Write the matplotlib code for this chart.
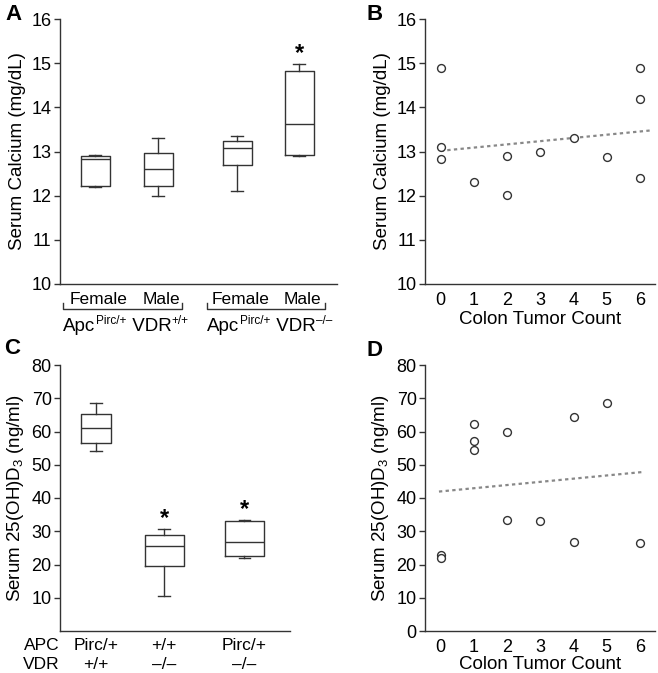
import numpy as np
import matplotlib
matplotlib.use("Agg")
import matplotlib.pyplot as plt

plt.rcParams["font.family"] = ["Liberation Sans", "DejaVu Sans"]
plt.rcParams["mathtext.fontset"] = "custom"
plt.rcParams["mathtext.rm"] = "Liberation Sans"
plt.rcParams["mathtext.it"] = "Liberation Sans:italic"
plt.rcParams["mathtext.bf"] = "Liberation Sans:bold"

# ---- data ----
# panel A: serum calcium by sex / genotype (box stats)
ca_groups = ["Female", "Male", "Female", "Male"]
ca_geno = ["+/+", "\u2013/\u2013"]
ca_whislo = [12.20, 11.99, 12.10, 12.89]
ca_q1 = [12.21, 12.21, 12.69, 12.92]
ca_med = [12.83, 12.61, 13.08, 13.63]
ca_q3 = [12.90, 12.96, 13.23, 14.82]
ca_whishi = [12.91, 13.30, 13.36, 14.99]
ca_star = [None, None, None, 15.22]

# panel B: calcium vs colon tumor count
b_count = [0, 0, 0, 1, 2, 2, 3, 4, 5, 6, 6, 6]
b_calcium = [14.90, 13.11, 12.84, 12.30, 12.90, 12.01, 13.00, 13.30, 12.87, 14.90, 14.20, 12.41]

# panel C: serum 25(OH)D3 by genotype
d_apc = ["Pirc/+", "+/+", "Pirc/+"]
d_vdr = ["+/+", "\u2013/\u2013", "\u2013/\u2013"]
d_whislo = [54.2, 10.6, 22.1]
d_q1 = [56.4, 19.6, 22.6]
d_med = [61.1, 25.5, 26.7]
d_q3 = [65.4, 28.9, 33.1]
d_whishi = [68.7, 30.6, 33.4]
d_star = [None, 33.9, 36.4]

# panel D: 25(OH)D3 vs colon tumor count
dd_count = [0, 0, 1, 1, 1, 2, 2, 3, 4, 4, 5, 6]
dd_vitd = [23.0, 22.1, 62.3, 57.2, 54.3, 60.0, 33.5, 33.1, 64.3, 26.8, 68.6, 26.4]

EDGE = "#333333"
W, H = 658, 673


def px_axes(fig, left, right, top, bottom):
    return fig.add_axes([left / W, 1 - bottom / H, (right - left) / W, (bottom - top) / H])


def style(ax):
    for s in ["top", "right"]:
        ax.spines[s].set_visible(False)
    for s in ["left", "bottom"]:
        ax.spines[s].set_color(EDGE)
        ax.spines[s].set_linewidth(1.0)
    ax.tick_params(axis="y", direction="out", length=4, width=1, color=EDGE,
                   labelsize=13, pad=2)
    ax.tick_params(axis="x", length=0, labelsize=13, pad=6)


def boxes(ax, whislo, q1, med, q3, whishi, pos, widths, capw):
    stats = []
    for i in range(len(med)):
        stats.append(dict(whislo=whislo[i], q1=q1[i], med=med[i], q3=q3[i],
                          whishi=whishi[i], fliers=[]))
    lp = dict(color=EDGE, linewidth=1.0)
    ax.bxp(stats, positions=pos, widths=widths, capwidths=capw, showfliers=False,
           boxprops=lp, whiskerprops=lp, capprops=lp,
           medianprops=dict(color=EDGE, linewidth=1.0), manage_ticks=False)


def geno_label(fig, x, y, geno):
    # "Apc^Pirc/+ VDR^geno" built piece by piece so the superscripts stay small
    renderer = fig.canvas.get_renderer()
    pieces = [("Apc", 13.5, 0), ("Pirc/+", 8.5, 7), (" VDR", 13.5, 0), (geno, 8.5, 7)]
    xpx = x
    for txt, fs, rise in pieces:
        t = fig.text(xpx / W, 1 - (y - rise) / H, txt, ha="left", va="baseline", fontsize=fs)
        bb = t.get_window_extent(renderer)
        xpx = bb.x1 + 0.5


fig = plt.figure(figsize=(W / 100, H / 100), dpi=100)

# ---- A ----
axA = px_axes(fig, 60, 337, 19, 284)
posA = [1.0, 2.0, 3.25, 4.23]
boxes(axA, ca_whislo, ca_q1, ca_med, ca_q3, ca_whishi, posA, 0.46, 0.19)
axA.set_xlim(0.44, 4.83)
axA.set_ylim(10, 16)
axA.set_yticks(range(10, 17))
axA.set_xticks([])
style(axA)
axA.set_ylabel("Serum Calcium (mg/dL)", fontsize=13.5, labelpad=4)
for p, s in zip(posA, ca_star):
    if s is not None:
        axA.text(p, s, "*", ha="center", va="center", fontsize=17, fontweight="bold")
for p, g in zip(posA, ca_groups):
    axA.text(p + 0.05, -0.06, g, transform=axA.get_xaxis_transform(), ha="center",
             va="center", fontsize=12.5)
trA = axA.get_xaxis_transform()
for (x0, x1), startpx, geno in zip([(0.48, 2.37), (2.77, 4.64)], [63, 207], ca_geno):
    axA.plot([x0, x0, x1, x1], [-0.072, -0.094, -0.094, -0.072], transform=trA,
             color=EDGE, lw=1.0, clip_on=False)
    geno_label(fig, startpx, 331, geno)

# ---- B ----
axB = px_axes(fig, 425, 655, 19, 284)
axB.scatter(b_count, b_calcium, s=32, facecolors="white", edgecolors=EDGE,
            linewidths=1.0, zorder=3)
kb = np.polyfit(b_count, b_calcium, 1)
xb = np.array([0, 6.3])
axB.plot(xb, np.polyval(kb, xb), ls=(0, (1.5, 1.5)), color="#888888", lw=1.6, zorder=2)
axB.set_xlim(-0.47, 6.45)
axB.set_ylim(10, 16)
axB.set_yticks(range(10, 17))
axB.set_xticks(range(7))
style(axB)
axB.set_ylabel("Serum Calcium (mg/dL)", fontsize=13.5, labelpad=4)
axB.set_xlabel("Colon Tumor Count", fontsize=13.5, labelpad=1)

# ---- C ----
axC = px_axes(fig, 60, 290, 365, 631)
posC = [1.0, 2.0, 3.18]
boxes(axC, d_whislo, d_q1, d_med, d_q3, d_whishi, posC, [0.43, 0.57, 0.57], 0.17)
axC.set_xlim(0.47, 3.85)
axC.set_ylim(0, 80)
axC.set_yticks(range(10, 81, 10))
axC.set_xticks([])
style(axC)
axC.set_ylabel(r"Serum 25(OH)D$_3$ (ng/ml)", fontsize=13.5, labelpad=4)
for p, s in zip(posC, d_star):
    if s is not None:
        axC.text(p, s, "*", ha="center", va="center", fontsize=17, fontweight="bold")
trC = axC.get_xaxis_transform()
axC.text(-0.08, -0.055, "APC", transform=axC.transAxes, ha="center", va="center", fontsize=12.5)
axC.text(-0.08, -0.125, "VDR", transform=axC.transAxes, ha="center", va="center", fontsize=12.5)
for p, a, v in zip(posC, d_apc, d_vdr):
    axC.text(p, -0.055, a, transform=trC, ha="center", va="center", fontsize=12.5)
    axC.text(p, -0.125, v, transform=trC, ha="center", va="center", fontsize=12.5)

# ---- D ----
axD = px_axes(fig, 425, 655, 365, 631)
axD.scatter(dd_count, dd_vitd, s=32, facecolors="white", edgecolors=EDGE,
            linewidths=1.0, zorder=3)
kd = np.polyfit(dd_count, dd_vitd, 1)
xd = np.array([-0.05, 6.1])
axD.plot(xd, np.polyval(kd, xd), ls=(0, (1.5, 1.5)), color="#888888", lw=1.6, zorder=2)
axD.set_xlim(-0.47, 6.45)
axD.set_ylim(0, 80)
axD.set_yticks(range(0, 81, 10))
axD.set_xticks(range(7))
style(axD)
axD.set_ylabel(r"Serum 25(OH)D$_3$ (ng/ml)", fontsize=13.5, labelpad=4)
axD.set_xlabel("Colon Tumor Count", fontsize=13.5, labelpad=0)

# panel letters
for lbl, x, y in [("A", 14, 14), ("B", 375, 14), ("C", 12, 348), ("D", 375, 350)]:
    fig.text(x / W, 1 - y / H, lbl, ha="center", va="center", fontsize=16, fontweight="bold")

fig.savefig("out.png", dpi=100)
